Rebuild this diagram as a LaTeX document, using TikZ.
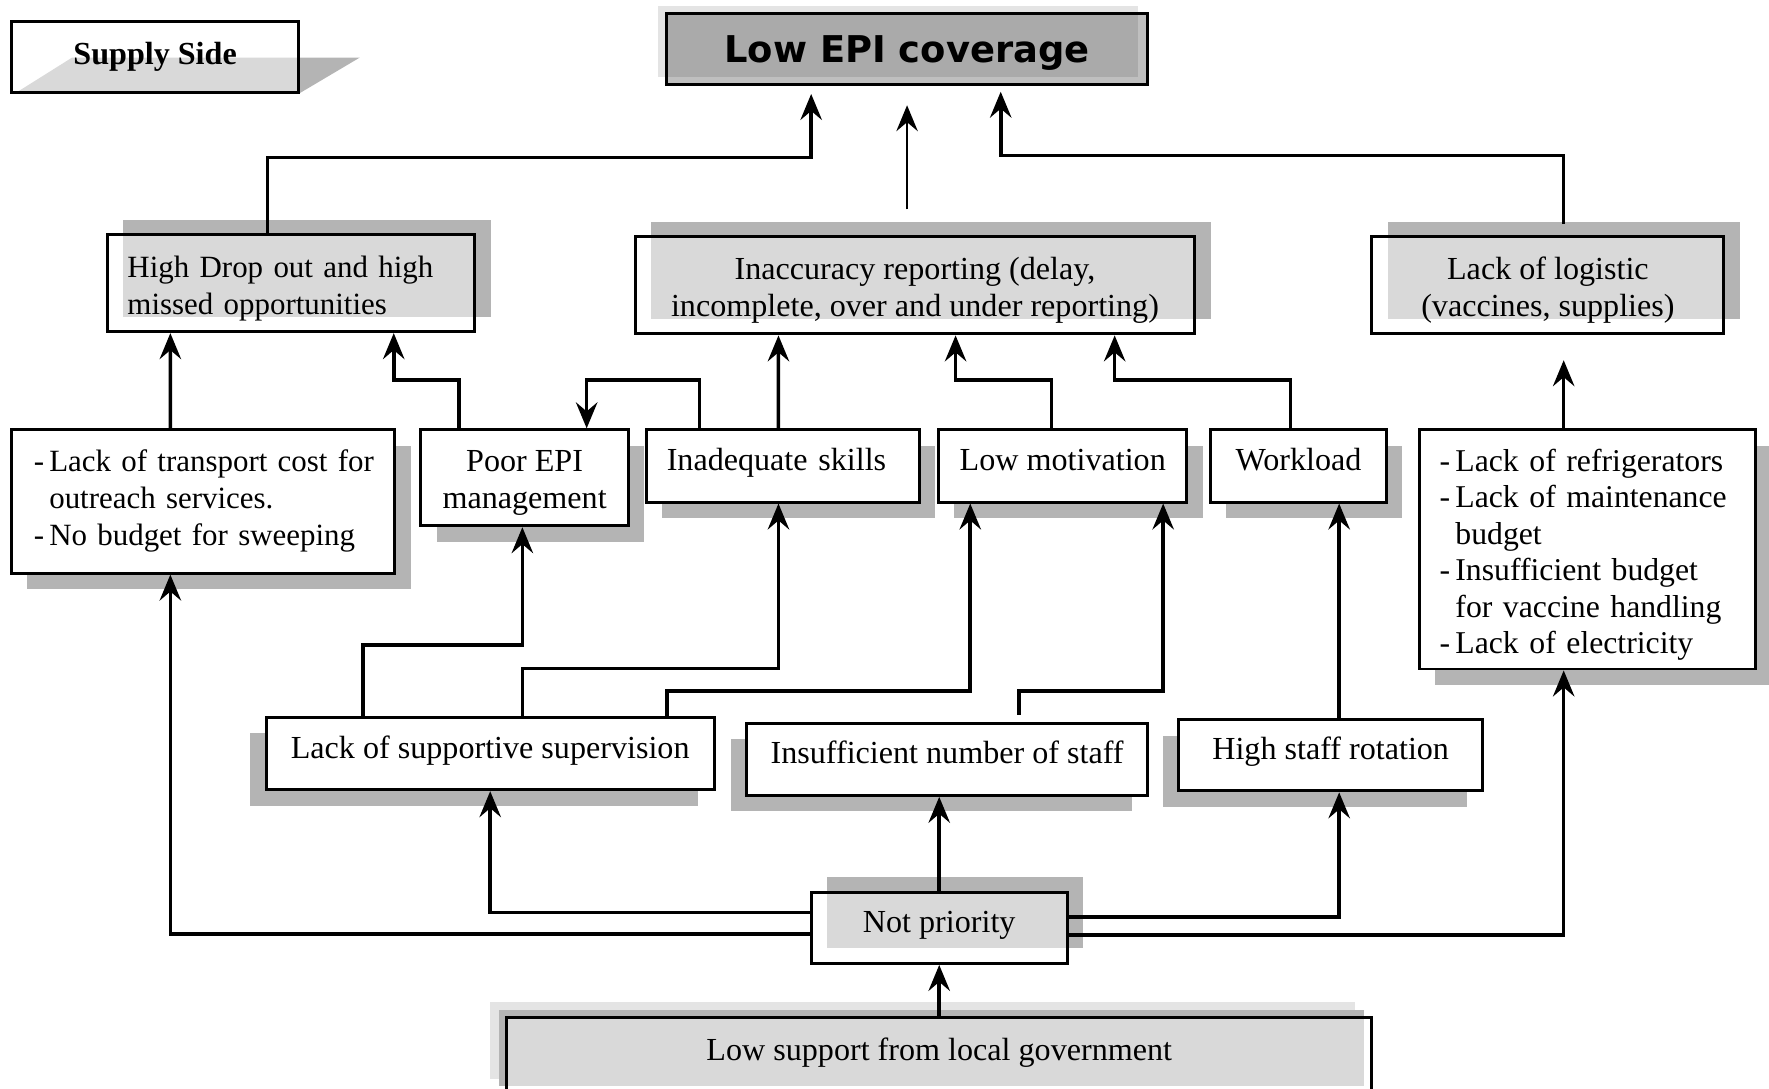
\documentclass[tikz,border=0pt]{standalone}
\usepackage{fontspec}
\setmainfont{Liberation Serif}
\newfontfamily\headfont{DejaVu Sans}
\usetikzlibrary{arrows.meta,shadows}

\definecolor{shadecolor}{HTML}{B4B4B4}
\definecolor{lightshade}{HTML}{E4E4E4}

% raises the first line of a box a little
\newcommand{\topgap}{\rule{0pt}{0.28cm}}

\begin{document}
\begin{tikzpicture}[
    font=\fontsize{8.1}{9.4}\selectfont,
    box/.style={draw, line width=0.75pt, fill=white, inner sep=0pt, text opacity=1},
    glassbox/.style={box, fill opacity=0.5},
    oneline/.style={text height=0.2cm, text depth=0.12cm},
    narrow/.style={font=\fontsize{7.8}{9.3}\selectfont},
    shadeNE/.style={general shadow={shadow xshift=0.14cm, shadow yshift=0.13cm, fill=shadecolor, opacity=1}},
    shadeSE/.style={general shadow={shadow xshift=0.14cm, shadow yshift=-0.14cm, fill=shadecolor, opacity=1}},
    shadeSW/.style={general shadow={shadow xshift=-0.14cm, shadow yshift=-0.14cm, fill=shadecolor, opacity=1}},
    link/.style={line width=0.9pt},
    arr/.style={link, -{Stealth[length=0.23cm, width=0.19cm, inset=0.08cm]}},
]
\useasboundingbox (0, 0) rectangle (15.68, 9.65);

% Header boxes
\fill[shadecolor] (0.13, 8.82) -- (2.65, 8.82) -- (3.19, 9.14) -- (0.64, 9.14) -- cycle;
\node[glassbox, minimum width=2.55cm, minimum height=0.63cm,
      font=\bfseries\fontsize{8.1}{9.4}\selectfont] (supply) at (1.375, 9.145) {Supply Side};
\node[box, fill=black, fill opacity=0.25,
      general shadow={shadow xshift=-0.08cm, shadow yshift=0.07cm, fill=lightshade, opacity=1},
      minimum width=4.26cm, minimum height=0.63cm, text depth=0cm,
      font=\headfont\bfseries\fontsize{9.3}{11}\selectfont] (lowepi) at (8.04, 9.215) {Low EPI coverage};

% Direct causes
\node[glassbox, shadeNE, narrow, minimum width=3.26cm, minimum height=0.86cm, text width=2.90cm,
      inner xsep=0.18cm, align=left] (highdrop) at (2.58, 7.14) {\topgap High Drop out and high\\missed opportunities};
\node[glassbox, shadeNE, minimum width=4.96cm, minimum height=0.86cm, align=center]
    (inacc) at (8.11, 7.12) {\topgap Inaccuracy reporting (delay,\\incomplete, over and under reporting)};
\node[glassbox, shadeNE, minimum width=3.12cm, minimum height=0.86cm, align=center]
    (logi) at (13.72, 7.12) {\topgap Lack of logistic\\(vaccines, supplies)};

% Middle row
\node[box, shadeSE, narrow, minimum width=3.40cm, minimum height=1.27cm, text width=3.0cm,
      inner xsep=0.2cm, align=left] (transport) at (1.80, 5.205)
    {\begin{tabular}{@{}l@{\,}l@{}}-&Lack of transport cost for\\&outreach services.\\-&No budget for sweeping\end{tabular}};
\node[box, shadeSE, minimum width=1.84cm, minimum height=0.85cm, align=center]
    (poor) at (4.65, 5.415) {\topgap Poor EPI\\management};
\node[box, shadeSE, oneline, minimum width=2.42cm, minimum height=0.64cm, text width=2.06cm,
      inner xsep=0.18cm, align=left] (skills) at (6.94, 5.52) {Inadequate skills};
\node[box, shadeSE, oneline, minimum width=2.20cm, minimum height=0.64cm] (motiv) at (9.42, 5.52) {Low motivation};
\node[box, shadeSE, oneline, minimum width=1.56cm, minimum height=0.64cm] (workload) at (11.51, 5.52) {Workload};
\node[box, shadeSE, minimum width=2.98cm, minimum height=2.12cm, text width=2.62cm,
      inner xsep=0.18cm, align=left, font=\fontsize{8}{9.2}\selectfont] (fridge) at (14.07, 4.78)
    {\begin{tabular}{@{}l@{\,}l@{}}-&Lack of refrigerators\rule{0pt}{0.33cm}\\-&Lack of maintenance\\&budget\\-&Insufficient budget\\&for vaccine handling\\-&Lack of electricity\end{tabular}};

% Lower row
\node[box, shadeSW, oneline, minimum width=3.97cm, minimum height=0.64cm] (superv) at (4.345, 2.97) {Lack of supportive supervision};
\node[box, shadeSW, oneline, minimum width=3.55cm, minimum height=0.64cm] (staff) at (8.395, 2.92) {Insufficient number of staff};
\node[box, shadeSW, oneline, minimum width=2.69cm, minimum height=0.63cm] (rotation) at (11.795, 2.955) {High staff rotation};

% Root causes
\node[glassbox, oneline,
      general shadow={shadow xshift=0.14cm, shadow yshift=0.14cm, fill=shadecolor, opacity=1},
      minimum width=2.27cm, minimum height=0.63cm] (notprio) at (8.325, 1.425) {Not priority};
\node[glassbox, oneline,
      general shadow={shadow xshift=-0.15cm, shadow yshift=0.14cm, fill=lightshade, opacity=1},
      general shadow={shadow xshift=-0.07cm, shadow yshift=0.07cm, fill=shadecolor, opacity=1},
      minimum width=7.67cm, minimum height=0.68cm] (lowsup) at (8.325, 0.29) {Low support from local government};

% Links up to the top box
\draw[arr, shorten >=0.07cm] ([xshift=-0.21cm]highdrop.north) -- ++(0, 0.67) -| ([xshift=-0.85cm]lowepi.south);
\draw[arr, line width=0.6pt, shorten <=0.23cm, shorten >=0.17cm] ([xshift=-0.07cm]inacc.north) -- (lowepi.south);
\draw[arr, shorten <=0.1cm, shorten >=0.05cm] ([xshift=0.14cm]logi.north) -- ++(0, 0.71) -| ([xshift=0.83cm]lowepi.south);

% Middle row up to direct causes
\draw[arr] ([xshift=-0.29cm]transport.north) -- ([xshift=-1.07cm]highdrop.south);
\draw[arr] ([xshift=-0.58cm]poor.north) -- ++(0, 0.43) -| ([xshift=0.91cm]highdrop.south);
\draw[arr] ([xshift=-0.74cm]skills.north) -- ++(0, 0.43) -| ([xshift=0.55cm]poor.north);
\draw[arr] ([xshift=-0.04cm]skills.north) -- ([xshift=-1.21cm]inacc.south);
\draw[arr] ([xshift=-0.10cm]motiv.north) -- ++(0, 0.43) -| ([xshift=0.36cm]inacc.south);
\draw[arr] ([xshift=-0.07cm]workload.north) -- ++(0, 0.43) -| ([xshift=1.77cm]inacc.south);
\draw[arr, shorten >=0.22cm] ([xshift=-0.21cm]fridge.north) -- ([xshift=0.14cm]logi.south);

% Lower row up to middle row
\draw[arr] ([xshift=-1.125cm]superv.north) -- ++(0, 0.63) -| ([xshift=-0.02cm]poor.south);
\draw[arr] ([xshift=0.285cm]superv.north) -- ++(0, 0.42) -| ([xshift=-0.04cm]skills.south);
\draw[arr] ([xshift=1.565cm]superv.north) -- ++(0, 0.22) -| ([xshift=-0.82cm]motiv.south);
\draw[arr, shorten <=0.06cm] ([xshift=0.635cm]staff.north) -- ++(0, 0.27) -| ([xshift=0.89cm]motiv.south);
\draw[arr] ([xshift=0.075cm]rotation.north) -- ([xshift=0.36cm]workload.south);

% Not priority fans out
\draw[arr] (notprio.north) -- (notprio.north |- staff.south);
\draw[arr] ([yshift=0.135cm]notprio.west) -| (superv.south);
\draw[arr] ([yshift=-0.055cm]notprio.west) -| ([xshift=-0.29cm]transport.south);
\draw[arr] ([yshift=0.095cm]notprio.east) -| ([xshift=0.075cm]rotation.south);
\draw[arr] ([yshift=-0.065cm]notprio.east) -| ([xshift=-0.21cm]fridge.south);
\draw[arr] (lowsup.north) -- (notprio.south);

\end{tikzpicture}
\end{document}
